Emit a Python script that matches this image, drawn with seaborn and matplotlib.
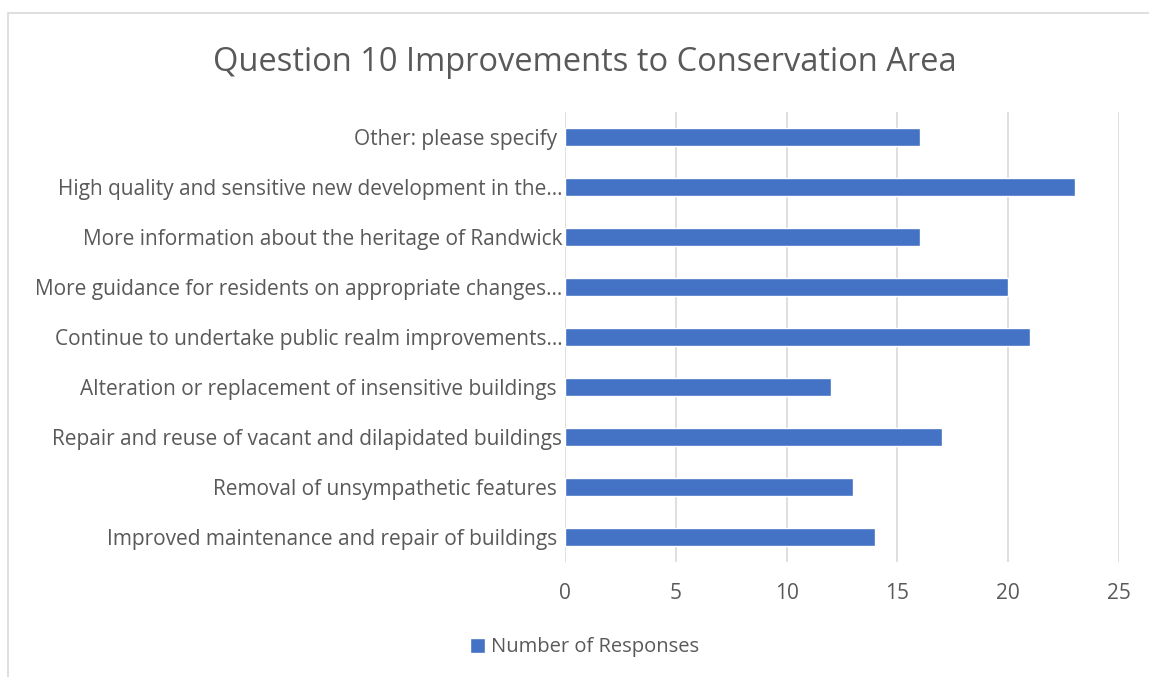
import pandas as pd
import seaborn as sns
import matplotlib.pyplot as plt
from matplotlib.patches import Rectangle

# Chart data (top to bottom as shown)
categories = [
    'Other: please specify ',
    'High quality and sensitive new development in the…',
    'More information about the heritage of Randwick',
    'More guidance for residents on appropriate changes…',
    'Continue to undertake public realm improvements…',
    'Alteration or replacement of insensitive buildings ',
    'Repair and reuse of vacant and dilapidated buildings',
    'Removal of unsympathetic features ',
    'Improved maintenance and repair of buildings ',
]
responses = [16, 23, 16, 20, 21, 12, 17, 13, 14]
x_ticks = [0, 5, 10, 15, 20, 25]

df = pd.DataFrame({'Question': categories, 'Number of Responses': responses})

sns.set_style('white')
plt.rcParams['font.family'] = ['Open Sans', 'DejaVu Sans']

bar_color = '#4472C4'
text_color = '#595959'
grid_color = '#D9D9D9'

fig = plt.figure(figsize=(11.49, 6.77), dpi=100)
ax = fig.add_axes([0.4917, 0.1699, 0.4822, 0.6647])

sns.barplot(data=df, y='Question', x='Number of Responses', color=bar_color,
            width=0.36, saturation=1, ax=ax, label='Number of Responses')

ax.set_xlim(0, 25)
ax.set_xticks(x_ticks)
ax.set_xlabel('')
ax.set_ylabel('')
ax.grid(axis='x', color=grid_color, linewidth=1.2)
ax.set_axisbelow(True)
for s in ax.spines.values():
    s.set_visible(False)
ax.tick_params(axis='both', length=0, colors=text_color, labelsize=15)
ax.tick_params(axis='x', pad=15)
ax.tick_params(axis='y', pad=2)

fig.suptitle('Question 10 Improvements to Conservation Area', x=0.509, y=0.932,
             fontsize=23.5, color=text_color)

ax.legend(loc='center', bbox_to_anchor=(0.509, 0.044), bbox_transform=fig.transFigure,
          frameon=False, fontsize=14.5, labelcolor=text_color, handlelength=0.75,
          handleheight=0.75, handletextpad=0.3)

# light chart-area border
fig.patches.append(Rectangle((8 / 1149, -0.1), 1.2, 1 - 13 / 677 + 0.1,
                             transform=fig.transFigure, fill=False,
                             edgecolor='#D9D9D9', linewidth=1.2))

fig.savefig('out.png', dpi=100)
